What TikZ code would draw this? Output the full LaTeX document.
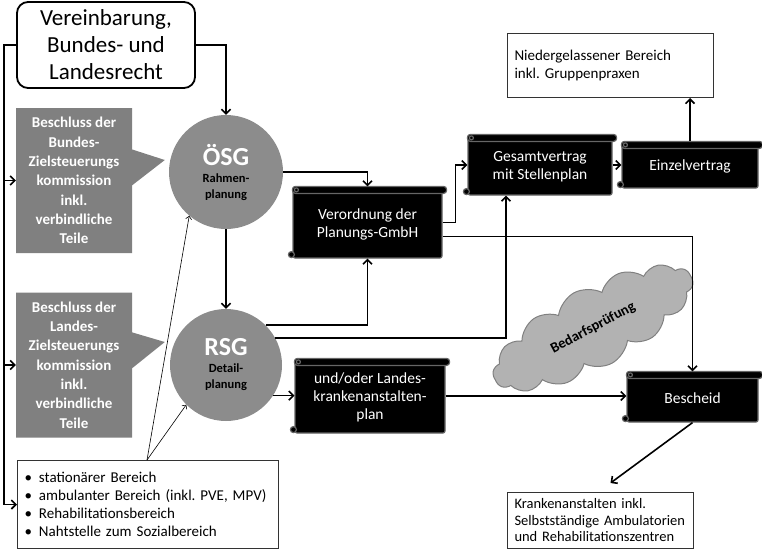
\documentclass[tikz,border=0pt]{standalone}
\usepackage{fontspec}
\setmainfont{Carlito}
\usetikzlibrary{arrows.meta,shapes.callouts,shapes.symbols}
\frenchspacing

\begin{document}
\begin{tikzpicture}[x=1pt,y=-1pt,
    >={Straight Barb[length=4.5pt,width=9pt]},
    conn/.style={->,line width=1.6pt},
    feed/.style={-{Straight Barb[length=3pt,width=6pt]},line width=0.6pt},
    textbox/.style={draw=black!80,line width=1pt,anchor=north west,align=left,inner xsep=7pt,font=\fontsize{15}{18}\selectfont},
    beschluss/.style={rectangle callout,fill=black!50,text=white,align=center,minimum width=116pt,minimum height=145pt,callout pointer width=36pt,inner sep=1pt,font=\bfseries\fontsize{15}{19.3}\selectfont},
    plan/.style={circle,fill=black!45,minimum size=114pt,inner sep=0pt,align=center,font=\bfseries\fontsize{12.5}{16}\selectfont},
    scroll/.style={draw=black!60,fill=black,line width=1.2pt,rounded corners=2pt,text=white,align=center,font=\fontsize{15.5}{18}\selectfont},
    scrollpart/.style={draw=black!60,fill=black,line width=1.2pt}]
\useasboundingbox (0,0) rectangle (762,549);

\node[draw,line width=1.8pt,rounded corners=11pt,minimum width=178pt,minimum height=86pt,inner sep=2pt,align=center,font=\fontsize{23}{27}\selectfont] (Vereinbarung) at (106,45) {Vereinbarung,\\Bundes- und\\Landesrecht};

\node[plan] (OESG) at (226,172) {\textcolor{white}{\fontsize{26}{28}\selectfont ÖSG}\\[1pt]Rahmen-\\planung};
\node[plan,minimum size=112pt] (RSG) at (226,365) {\textcolor{white}{\fontsize{26}{28}\selectfont RSG}\\[1pt]Detail-\\planung};

\node[beschluss,callout absolute pointer={([xshift=-4pt,yshift=12pt]OESG.west)}] (BeschlussBund) at (74,180.5) {Beschluss der\\Bundes-\\Zielsteuerungs\\kommission\\inkl.\\verbindliche\\Teile};
\node[beschluss,callout absolute pointer={([xshift=-5pt,yshift=23pt]RSG.west)}] (BeschlussLand) at (74,365) {Beschluss der\\Landes-\\Zielsteuerungs\\kommission\\inkl.\\verbindliche\\Teile};

\node[textbox,text width=247pt,minimum height=88pt] (Bereiche) at (17,460) {\textbullet\hspace{7pt}stationärer Bereich\\\textbullet\hspace{7pt}ambulanter Bereich (inkl. PVE, MPV)\\\textbullet\hspace{7pt}Rehabilitationsbereich\\\textbullet\hspace{7pt}Nahtstelle zum Sozialbereich};
\node[textbox,text width=192pt,minimum height=64pt] (Niedergelassener) at (507,33) {Niedergelassener Bereich\\inkl. Gruppenpraxen};
\node[textbox,text width=172pt,minimum height=56pt,font=\fontsize{14.5}{16.5}\selectfont] (Krankenanstalten) at (507,492) {Krankenanstalten inkl.\\Selbstständige Ambulatorien\\und Rehabilitationszentren};

\node[scroll,minimum width=149pt,minimum height=71pt] (Verordnung) at (367.5,222.5) {\rule{0pt}{14pt}Verordnung der\\Planungs-GmbH};
\node[scroll,minimum width=144pt,minimum height=60pt] (Gesamtvertrag) at (540,165) {\rule{0pt}{14pt}Gesamtvertrag\\mit Stellenplan};
\node[scroll,minimum width=136pt,minimum height=46pt] (Einzelvertrag) at (690,165) {\rule{0pt}{14pt}Einzelvertrag};
\node[scroll,minimum width=150pt,minimum height=74pt] (Landesplan) at (370,396) {\rule{0pt}{14pt}und/oder Landes-\\krankenanstalten-\\plan};
\node[scroll,minimum width=131pt,minimum height=50pt] (Bescheid) at (692.5,397) {\rule{0pt}{14pt}Bescheid};

\foreach \s in {Verordnung,Gesamtvertrag,Einzelvertrag,Landesplan,Bescheid}{
  \draw[scrollpart,rounded corners=3pt] (\s.north west) rectangle ([xshift=4pt,yshift=-7pt]\s.north east);
  \draw[scrollpart] ([xshift=4pt,yshift=-3.5pt]\s.north west) circle (2pt);
  \draw[scrollpart] ([xshift=-1pt,yshift=4pt]\s.south west) circle (3pt);
}

\coordinate (spine) at (4,45);
\coordinate (fan) at (147,460);

\draw[conn] (Vereinbarung.east) -| (OESG.north);
\draw[conn] (Vereinbarung.west) -- (spine) |- (Bereiche.west);
\draw[conn] (spine |- BeschlussBund.west) -- (BeschlussBund.west);
\draw[conn] (spine |- BeschlussLand.west) -- (BeschlussLand.west);
\draw[conn] (OESG) -- (RSG);
\draw[conn] (OESG.east) -| (Verordnung.north);
\draw[conn] (RSG.45) -| (Verordnung.south);
\draw[conn] (RSG.29) -| ([xshift=-34pt]Gesamtvertrag.south);
\draw[conn] (Verordnung.east) -- ++(13,0) |- (Gesamtvertrag.west);
\draw[conn] (Gesamtvertrag) -- (Einzelvertrag);
\draw[conn] (Einzelvertrag.north) -- (Einzelvertrag.north |- Niedergelassener.south);
\draw[conn] (RSG.-33) -- (RSG.-33 -| Landesplan.west);
\draw[conn] (Landesplan.east) -- (Landesplan.east -| Bescheid.west);

\node[cloud,cloud puffs=14,cloud puff arc=110,aspect=3,draw=black!50,fill=black!30,line width=1pt,rotate=28,minimum width=222pt,minimum height=80pt,font=\bfseries\fontsize{14.5}{16}\selectfont] (Bedarf) at (593,328) {Bedarfsprüfung};

\draw[conn] ([yshift=-14pt]Verordnung.east) -| (Bescheid.north);
\draw[conn] (Bescheid.south) -- ([xshift=10pt,yshift=9pt]Krankenanstalten.north);
\draw[feed] (fan) -- (OESG.230);
\draw[feed] (fan) -- (RSG.225);
\end{tikzpicture}
\end{document}
